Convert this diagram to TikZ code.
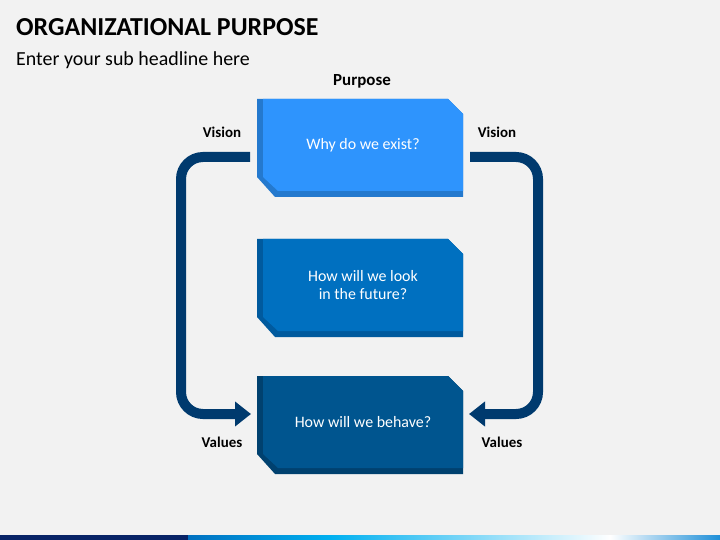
\documentclass[tikz,border=0pt]{standalone}
\usepackage{fontspec}
\setmainfont{Carlito}
\usetikzlibrary{arrows.meta}
\definecolor{bggray}{HTML}{F2F2F2}
\definecolor{arrownavy}{HTML}{003A6E}
\definecolor{whyface}{HTML}{2E94FD}
\definecolor{whyshade}{HTML}{2479CE}
\definecolor{lookface}{HTML}{0070C0}
\definecolor{lookshade}{HTML}{005A9E}
\definecolor{behaveface}{HTML}{00558F}
\definecolor{behaveshade}{HTML}{00416F}
\definecolor{barnavy}{HTML}{082366}
\definecolor{barblue}{HTML}{0070C0}
\definecolor{barcyan}{HTML}{00B0F0}
\definecolor{barend}{HTML}{1E8FD8}
\tikzset{
  lbl/.style={font=\bfseries\fontsize{15}{18}\selectfont, anchor=base, inner sep=0},
  boxtext/.style={text=white, font=\fontsize{16}{19}\selectfont, align=center},
  flow/.style={draw=arrownavy, line width=10bp, rounded corners=22bp,
    -{Triangle[width=24bp,length=16bp]}},
}
% kvader s useknutymi rohy: jmeno, horni y, barva, stin, text
\newcommand{\purposebox}[5]{%
  \fill[#4] (257,#2) -- (448,#2) -- (463,#2+15) -- (463,#2+98) -- (275,#2+98) -- (257,#2+78) -- cycle;
  \fill[#3] (263,#2) -- (448,#2) -- (463,#2+15) -- (463,#2+92) -- (278,#2+92) -- (263,#2+78) -- cycle;
  \node[boxtext] (#1) at (363,#2+46) {#5};
}
\begin{document}
\begin{tikzpicture}[x=1bp, y=-1bp]
% Pozadi
\fill[bggray] (0,0) rectangle (720,540);
\useasboundingbox (0,0) rectangle (720,540);
% Pruh dole
\fill[barnavy] (0,535) rectangle (188.5,540);
\shade[left color=barblue, right color=barcyan] (188,535) rectangle (330.5,540);
\shade[left color=barcyan, right color=white] (330,535) rectangle (610.5,540);
\shade[left color=white, right color=barend] (610,535) rectangle (720,540);
% Nadpisy
\node[anchor=base west, inner sep=0, font=\bfseries\fontsize{26}{30}\selectfont] (title) at (16,36) {ORGANIZATIONAL PURPOSE};
\node[anchor=base west, inner sep=0, font=\fontsize{20}{24}\selectfont] (subtitle) at (16,66) {Enter your sub headline here};
% Bloky
\purposebox{why}{99}{whyface}{whyshade}{Why do we exist?}
\purposebox{look}{239}{lookface}{lookshade}{How will we look\\in the future?}
\purposebox{behave}{376}{behaveface}{behaveshade}{How will we behave?}
% Sipky
\coordinate (visionL) at (250,157);
\coordinate (valuesL) at (251,414);
\coordinate (visionR) at (470,157);
\coordinate (valuesR) at (469,414);
\draw[flow] (visionL) -- ++(-69,0) |- (valuesL);
\draw[flow] (visionR) -- ++(68,0) |- (valuesR);
% Popisky
\node[lbl, font=\bfseries\fontsize{17}{20}\selectfont] (purpose) at (362,86) {Purpose};
\node[lbl] (visionLtxt) at (222,138) {Vision};
\node[lbl] (visionRtxt) at (497,138) {Vision};
\node[lbl] (valuesLtxt) at (222,447) {Values};
\node[lbl] (valuesRtxt) at (502,447) {Values};
\end{tikzpicture}
\end{document}
